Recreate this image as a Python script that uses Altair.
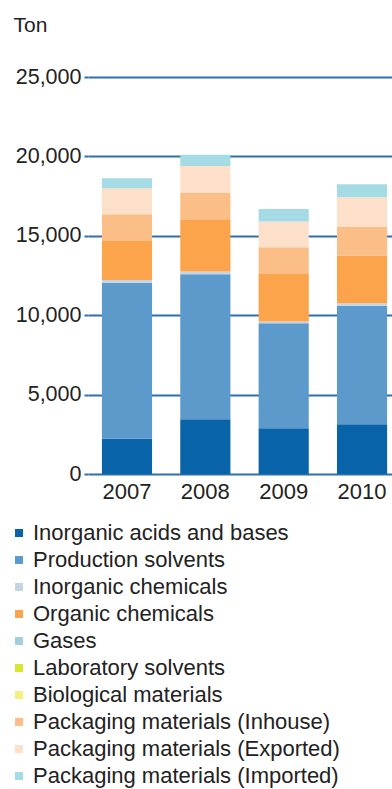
import altair as alt
import pandas as pd

years = ["2007", "2008", "2009", "2010"]
categories = [
    "Inorganic acids and bases",
    "Production solvents",
    "Inorganic chemicals",
    "Organic chemicals",
    "Gases",
    "Laboratory solvents",
    "Biological materials",
    "Packaging materials (Inhouse)",
    "Packaging materials (Exported)",
    "Packaging materials (Imported)",
]
colors = [
    "#0863a8", "#5b9acb", "#c5d4e4", "#fba44c", "#a3cde0",
    "#d6e82e", "#f5ef7c", "#fbbe86", "#fde0c9", "#a5dbe5",
]
# values per category, one entry per year (tons)
inorganic_acids = [2220, 3450, 2880, 3130]
production_solvents = [9830, 9130, 6610, 7470]
inorganic_chemicals = [170, 170, 120, 150]
organic_chemicals = [2460, 3300, 2990, 3000]
gases = [0, 0, 0, 0]
laboratory_solvents = [0, 0, 0, 0]
biological_materials = [0, 0, 0, 0]
packaging_inhouse = [1680, 1670, 1680, 1830]
packaging_exported = [1630, 1680, 1620, 1850]
packaging_imported = [640, 700, 780, 820]

series = [
    inorganic_acids, production_solvents, inorganic_chemicals, organic_chemicals,
    gases, laboratory_solvents, biological_materials,
    packaging_inhouse, packaging_exported, packaging_imported,
]

rows = []
for ci, (cat, vals) in enumerate(zip(categories, series)):
    for y, v in zip(years, vals):
        rows.append({"Year": y, "Category": cat, "Tons": v, "Order": ci})
df = pd.DataFrame(rows)

FONT = "Liberation Sans"
GRID = "#2f6fae"
TXT = "#222222"

chart = alt.Chart(df).mark_bar().encode(
    x=alt.X(
        "Year:N",
        sort=years,
        scale=alt.Scale(paddingInner=0.36, paddingOuter=0.12, align=0.74),
        axis=alt.Axis(
            title=None, labelAngle=0, ticks=False, domain=False, grid=False,
            labelFontSize=22, labelColor=TXT, labelFont=FONT, labelPadding=7,
        ),
    ),
    y=alt.Y(
        "Tons:Q",
        stack="zero",
        scale=alt.Scale(domain=[0, 25000], nice=False),
        axis=alt.Axis(
            values=[0, 5000, 10000, 15000, 20000, 25000],
            format=",d",
            title="Ton",
            titleAngle=0,
            titleAlign="left",
            titleBaseline="alphabetic",
            titleX=-75,
            titleY=-46,
            titleFontSize=21,
            titleFontWeight="normal",
            titleFont=FONT,
            titleColor=TXT,
            labelFontSize=21.5,
            labelFont=FONT,
            labelColor=TXT,
            labelPadding=3,
            tickSize=4,
            tickColor=GRID,
            tickWidth=2,
            domain=False,
            grid=True,
            gridColor=GRID,
            gridWidth=2,
        ),
    ),
    color=alt.Color(
        "Category:N",
        scale=alt.Scale(domain=categories, range=colors),
        sort=categories,
        legend=alt.Legend(
            title=None,
            orient="none",
            legendX=-80,
            legendY=445,
            direction="vertical",
            symbolType="square",
            symbolSize=64,
            symbolStrokeWidth=0,
            labelFontSize=22,
            labelFont=FONT,
            labelColor=TXT,
            labelOffset=3,
            rowPadding=5,
            padding=0,
            labelLimit=400,
        ),
    ),
    order=alt.Order("Order:Q", sort="ascending"),
).properties(
    width=304,
    height=397,
    padding={"left": 88, "top": 77, "right": 0, "bottom": 315},
    autosize=alt.AutoSizeParams(type="none"),
).configure(background="white").configure_view(stroke=None, strokeWidth=0)

chart.save("out.html", embed_options={"renderer": "svg", "actions": False})
